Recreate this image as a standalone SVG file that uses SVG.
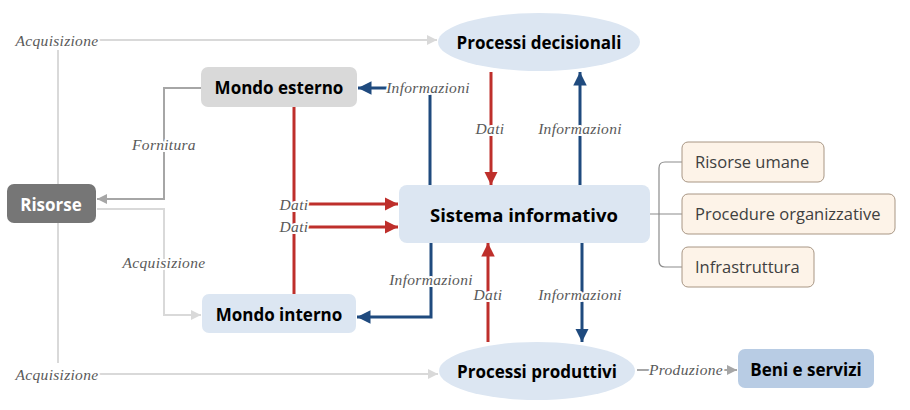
<svg xmlns="http://www.w3.org/2000/svg" width="910" height="410" viewBox="0 0 910 410">
<defs>
<style>
.lbl{font-family:"Liberation Serif","DejaVu Serif",serif;font-style:italic;font-size:15.5px;letter-spacing:0.3px;fill:#595959;text-anchor:middle;dominant-baseline:central;stroke:#fff;stroke-width:4px;paint-order:stroke;stroke-linejoin:round}
.nt{font-family:"Open Sans","Noto Sans",sans-serif;font-weight:bold;font-size:17px;fill:#000;text-anchor:middle;dominant-baseline:central}
.st{font-family:"Open Sans","Noto Sans",sans-serif;font-size:16.5px;fill:#404040;dominant-baseline:central}
.red{fill:none;stroke:#be2f2b;stroke-width:3}
.blue{fill:none;stroke:#1f4a7e;stroke-width:3}
.lg{fill:none;stroke:#d9d9d9;stroke-width:2}
.dg{fill:none;stroke:#a6a6a6;stroke-width:2}
.br{fill:none;stroke:#8c8c8c;stroke-width:1.2}
.sub{fill:#fdf3e8;stroke:#a89684;stroke-width:1}
</style>
<marker id="ar" viewBox="0 0 10 10" refX="10" refY="5" markerWidth="4.5" markerHeight="4.5" orient="auto" markerUnits="strokeWidth"><path d="M0,0L10,5L0,10z" fill="#be2f2b"/></marker>
<marker id="ab" viewBox="0 0 10 10" refX="10" refY="5" markerWidth="4.5" markerHeight="4.5" orient="auto" markerUnits="strokeWidth"><path d="M0,0L10,5L0,10z" fill="#1f4a7e"/></marker>
<marker id="alg" viewBox="0 0 10 10" refX="10" refY="5" markerWidth="5" markerHeight="5" orient="auto" markerUnits="strokeWidth"><path d="M0,0L10,5L0,10z" fill="#d9d9d9"/></marker>
<marker id="adg" viewBox="0 0 10 10" refX="10" refY="5" markerWidth="5" markerHeight="5" orient="auto" markerUnits="strokeWidth"><path d="M0,0L10,5L0,10z" fill="#a6a6a6"/></marker>
</defs>
<rect width="910" height="410" fill="#fff"/>
<g id="connectors">
<path class="lg" d="M58,50V363"/>
<path class="lg" d="M98,40H437" marker-end="url(#alg)"/>
<path class="lg" d="M98,374H438" marker-end="url(#alg)"/>
<path class="dg" d="M201,88H164V199H97" marker-end="url(#adg)"/>
<path class="lg" d="M97,209H164V315H201" marker-end="url(#alg)"/>
<path class="red" d="M294,107V294"/>
<path class="red" d="M306,204H398" marker-end="url(#ar)"/>
<path class="red" d="M306,227H398" marker-end="url(#ar)"/>
<path class="red" d="M491,72V185" marker-end="url(#ar)"/>
<path class="blue" d="M580,185V72" marker-end="url(#ab)"/>
<path class="blue" d="M430,185V88H358" marker-end="url(#ab)"/>
<path class="blue" d="M431,243V317H357" marker-end="url(#ab)"/>
<path class="red" d="M488,342V243" marker-end="url(#ar)"/>
<path class="blue" d="M582,243V342" marker-end="url(#ab)"/>
<path class="dg" d="M637,370H737" marker-end="url(#adg)"/>
<path class="br" d="M649,214H659 M682,162H665Q659,162 659,168V261Q659,267 665,267H682 M659,214H682"/>
<text class="lbl" x="57" y="40">Acquisizione</text>
<text class="lbl" x="57" y="374">Acquisizione</text>
<text class="lbl" x="164" y="144">Fornitura</text>
<text class="lbl" x="164" y="262">Acquisizione</text>
<text class="lbl" x="294" y="204">Dati</text>
<text class="lbl" x="294" y="226">Dati</text>
<text class="lbl" x="428" y="87">Informazioni</text>
<text class="lbl" x="431" y="279">Informazioni</text>
<text class="lbl" x="490" y="128">Dati</text>
<text class="lbl" x="580" y="128">Informazioni</text>
<text class="lbl" x="488" y="294">Dati</text>
<text class="lbl" x="580" y="294">Informazioni</text>
<text class="lbl" x="686" y="369">Produzione</text>
</g>
<g id="processi-decisionali"><ellipse cx="539" cy="42" rx="101" ry="29" fill="#dce6f2"/><text class="nt" x="539" y="42">Processi decisionali</text></g>
<g id="mondo-esterno"><rect x="201" y="67" width="156" height="40" rx="7" fill="#d9d9d9"/><text class="nt" x="279" y="87">Mondo esterno</text></g>
<g id="risorse"><rect x="7" y="184" width="89" height="39" rx="7" fill="#767676"/><text class="nt" x="51" y="204" style="fill:#fff">Risorse</text></g>
<g id="sistema-informativo"><rect x="399" y="185" width="251" height="58" rx="8" fill="#dce6f2"/><text class="nt" x="524" y="214" style="font-size:18.5px">Sistema informativo</text></g>
<g id="risorse-umane"><rect class="sub" x="682" y="142" width="142" height="40" rx="6"/><text class="st" x="695" y="161">Risorse umane</text></g>
<g id="procedure-organizzative"><rect class="sub" x="682" y="194" width="213" height="40" rx="6"/><text class="st" x="695" y="213">Procedure organizzative</text></g>
<g id="infrastruttura"><rect class="sub" x="682" y="247" width="132" height="40" rx="6"/><text class="st" x="695" y="266">Infrastruttura</text></g>
<g id="mondo-interno"><rect x="202" y="294" width="154" height="39" rx="7" fill="#dce6f2"/><text class="nt" x="279" y="314">Mondo interno</text></g>
<g id="processi-produttivi"><ellipse cx="537" cy="371" rx="98" ry="29" fill="#dce6f2"/><text class="nt" x="537" y="371">Processi produttivi</text></g>
<g id="beni-e-servizi"><rect x="738" y="349" width="136" height="39" rx="7" fill="#b8cce4"/><text class="nt" x="806" y="369">Beni e servizi</text></g>
</svg>
